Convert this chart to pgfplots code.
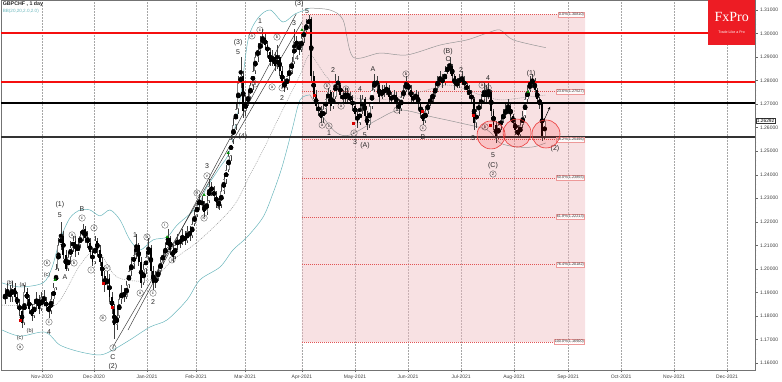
\documentclass[border=0pt]{standalone}
\usepackage{pgfplots}
\pgfplotsset{compat=1.18}
\usepackage{pgfplotstable}
\usetikzlibrary{arrows.meta}
\usepackage{fontspec}
\setmainfont{Liberation Sans}
\newfontfamily\logofont{Liberation Serif}
\definecolor{bandteal}{RGB}{105,182,188}
\definecolor{bandgray}{RGB}{150,150,150}
\definecolor{fibred}{RGB}{225,85,85}
\definecolor{fxred}{RGB}{237,28,36}
\definecolor{circred}{RGB}{235,55,55}
\definecolor{lvred}{RGB}{245,15,15}
\tikzset{
 ew/.style={font=\fontsize{7}{7}\selectfont, inner sep=0pt, text=black!85},
 pw/.style={font=\fontsize{5.5}{5.5}\selectfont, inner sep=0pt, text=black!85},
 cw/.style={circle, draw=black!75, line width=0.3pt, inner sep=0.1pt, minimum size=6.5pt, font=\fontsize{4.3}{4.3}\selectfont, text=black!85},
}
\begin{document}
\pgfplotstableread{
i O H L C
0 1.187 1.192 1.185 1.189
1 1.189 1.194 1.187 1.190
2 1.190 1.193 1.186 1.188
3 1.188 1.195 1.186 1.192
4 1.192 1.194 1.186 1.188
5 1.188 1.190 1.183 1.185
6 1.185 1.187 1.180 1.182
7 1.182 1.184 1.175 1.177
8 1.177 1.193 1.176 1.190
9 1.190 1.192 1.185 1.187
10 1.187 1.189 1.181 1.183
11 1.183 1.185 1.178 1.180
12 1.180 1.187 1.179 1.185
13 1.185 1.190 1.183 1.187
14 1.187 1.189 1.181 1.183
15 1.183 1.190 1.182 1.188
16 1.188 1.191 1.184 1.186
17 1.186 1.188 1.182 1.184
18 1.184 1.186 1.179 1.182
19 1.182 1.190 1.181 1.187
20 1.187 1.194 1.185 1.192
21 1.192 1.202 1.191 1.200
22 1.200 1.213 1.199 1.210
23 1.210 1.220 1.208 1.214
24 1.214 1.216 1.204 1.206
25 1.206 1.208 1.199 1.200
26 1.200 1.207 1.199 1.205
27 1.205 1.212 1.203 1.209
28 1.209 1.214 1.207 1.212
29 1.212 1.214 1.205 1.207
30 1.207 1.213 1.206 1.210
31 1.210 1.216 1.209 1.214
32 1.214 1.219 1.212 1.217
33 1.217 1.218 1.211 1.213
34 1.213 1.216 1.209 1.211
35 1.211 1.213 1.205 1.207
36 1.207 1.209 1.201 1.203
37 1.203 1.214 1.202 1.212
38 1.212 1.213 1.206 1.208
39 1.208 1.210 1.201 1.203
40 1.203 1.205 1.195 1.197
41 1.197 1.199 1.190 1.193
42 1.193 1.199 1.191 1.196
43 1.196 1.198 1.186 1.188
44 1.188 1.190 1.181 1.183
45 1.183 1.185 1.170 1.176
46 1.176 1.183 1.174 1.180
47 1.180 1.189 1.179 1.187
48 1.187 1.193 1.185 1.190
49 1.190 1.192 1.186 1.188
50 1.188 1.195 1.187 1.193
51 1.193 1.201 1.192 1.199
52 1.199 1.205 1.197 1.202
53 1.202 1.208 1.200 1.206
54 1.206 1.215 1.204 1.210
55 1.210 1.211 1.201 1.203
56 1.203 1.205 1.192 1.194
57 1.194 1.202 1.193 1.200
58 1.200 1.207 1.198 1.205
59 1.205 1.213 1.204 1.209
60 1.209 1.210 1.197 1.199
61 1.199 1.201 1.191 1.194
62 1.194 1.199 1.192 1.196
63 1.196 1.201 1.195 1.199
64 1.199 1.205 1.198 1.203
65 1.203 1.208 1.202 1.206
66 1.206 1.211 1.205 1.209
67 1.209 1.217 1.208 1.213
68 1.213 1.214 1.206 1.208
69 1.208 1.210 1.203 1.205
70 1.205 1.212 1.204 1.210
71 1.210 1.215 1.208 1.212
72 1.212 1.214 1.209 1.211
73 1.211 1.217 1.210 1.214
74 1.214 1.216 1.210 1.212
75 1.212 1.218 1.211 1.216
76 1.216 1.218 1.212 1.214
77 1.214 1.221 1.213 1.219
78 1.219 1.225 1.218 1.223
79 1.223 1.229 1.222 1.227
80 1.227 1.232 1.225 1.229
81 1.229 1.231 1.225 1.227
82 1.227 1.229 1.222 1.224
83 1.224 1.231 1.223 1.229
84 1.229 1.238 1.228 1.235
85 1.235 1.237 1.231 1.233
86 1.233 1.235 1.229 1.231
87 1.231 1.233 1.226 1.228
88 1.228 1.231 1.225 1.227
89 1.227 1.235 1.226 1.233
90 1.233 1.240 1.232 1.238
91 1.238 1.244 1.236 1.242
92 1.242 1.250 1.241 1.248
93 1.248 1.257 1.246 1.255
94 1.255 1.264 1.253 1.261
95 1.261 1.271 1.259 1.268
96 1.268 1.282 1.266 1.279
97 1.279 1.290 1.277 1.282
98 1.282 1.284 1.264 1.267
99 1.267 1.274 1.265 1.271
100 1.271 1.276 1.269 1.273
101 1.273 1.280 1.272 1.278
102 1.278 1.286 1.276 1.284
103 1.284 1.292 1.283 1.290
104 1.290 1.296 1.288 1.293
105 1.293 1.299 1.291 1.296
106 1.296 1.302 1.294 1.298
107 1.298 1.300 1.293 1.295
108 1.295 1.297 1.290 1.292
109 1.292 1.294 1.286 1.288
110 1.288 1.293 1.286 1.290
111 1.290 1.292 1.284 1.286
112 1.286 1.295 1.285 1.290
113 1.290 1.291 1.282 1.284
114 1.284 1.286 1.277 1.279
115 1.279 1.282 1.275 1.277
116 1.277 1.284 1.276 1.282
117 1.282 1.287 1.280 1.284
118 1.284 1.290 1.283 1.288
119 1.288 1.302 1.287 1.297
120 1.297 1.299 1.292 1.295
121 1.295 1.297 1.291 1.293
122 1.293 1.300 1.292 1.298
123 1.298 1.303 1.296 1.301
124 1.301 1.306 1.300 1.304
125 1.304 1.308 1.302 1.306
126 1.306 1.307 1.280 1.282
127 1.282 1.284 1.272 1.274
128 1.274 1.276 1.267 1.269
129 1.269 1.271 1.265 1.267
130 1.267 1.269 1.262 1.264
131 1.264 1.270 1.262 1.268
132 1.268 1.274 1.266 1.272
133 1.272 1.277 1.270 1.275
134 1.275 1.276 1.267 1.269
135 1.269 1.275 1.268 1.273
136 1.273 1.283 1.272 1.280
137 1.280 1.282 1.276 1.278
138 1.278 1.280 1.272 1.274
139 1.274 1.276 1.270 1.272
140 1.272 1.277 1.271 1.274
141 1.274 1.277 1.271 1.273
142 1.273 1.275 1.270 1.272
143 1.272 1.274 1.267 1.269
144 1.269 1.271 1.264 1.266
145 1.266 1.268 1.260 1.262
146 1.262 1.274 1.261 1.268
147 1.268 1.274 1.266 1.272
148 1.272 1.273 1.263 1.265
149 1.265 1.267 1.259 1.261
150 1.261 1.271 1.260 1.269
151 1.269 1.278 1.268 1.276
152 1.276 1.283 1.275 1.280
153 1.280 1.282 1.276 1.278
154 1.278 1.279 1.271 1.273
155 1.273 1.278 1.272 1.276
156 1.276 1.278 1.273 1.275
157 1.275 1.279 1.274 1.277
158 1.277 1.278 1.271 1.273
159 1.273 1.275 1.270 1.272
160 1.272 1.276 1.270 1.274
161 1.274 1.275 1.268 1.270
162 1.270 1.272 1.266 1.268
163 1.268 1.275 1.267 1.273
164 1.273 1.278 1.272 1.276
165 1.276 1.282 1.275 1.279
166 1.279 1.280 1.274 1.276
167 1.276 1.278 1.271 1.273
168 1.273 1.275 1.270 1.272
169 1.272 1.276 1.271 1.274
170 1.274 1.275 1.268 1.270
171 1.270 1.271 1.264 1.266
172 1.266 1.268 1.261 1.263
173 1.263 1.269 1.262 1.267
174 1.267 1.272 1.266 1.270
175 1.270 1.274 1.269 1.272
176 1.272 1.276 1.271 1.274
177 1.274 1.279 1.273 1.277
178 1.277 1.282 1.276 1.280
179 1.280 1.284 1.278 1.281
180 1.281 1.283 1.277 1.279
181 1.279 1.286 1.278 1.284
182 1.284 1.287 1.283 1.285
183 1.285 1.290 1.283 1.286
184 1.286 1.287 1.280 1.282
185 1.282 1.283 1.276 1.278
186 1.278 1.281 1.277 1.279
187 1.279 1.283 1.277 1.281
188 1.281 1.284 1.278 1.280
189 1.280 1.282 1.276 1.278
190 1.278 1.280 1.274 1.276
191 1.276 1.278 1.272 1.274
192 1.274 1.276 1.270 1.272
193 1.272 1.273 1.259 1.262
194 1.262 1.269 1.260 1.267
195 1.267 1.272 1.265 1.270
196 1.270 1.274 1.268 1.272
197 1.272 1.279 1.271 1.276
198 1.276 1.278 1.271 1.273
199 1.273 1.279 1.272 1.275
200 1.275 1.276 1.265 1.267
201 1.267 1.268 1.259 1.261
202 1.261 1.263 1.2535 1.256
203 1.256 1.263 1.255 1.261
204 1.261 1.265 1.259 1.263
205 1.263 1.268 1.262 1.266
206 1.266 1.270 1.264 1.267
207 1.267 1.272 1.266 1.269
208 1.269 1.270 1.263 1.265
209 1.265 1.266 1.260 1.262
210 1.262 1.264 1.257 1.259
211 1.259 1.261 1.2555 1.257
212 1.257 1.263 1.256 1.261
213 1.261 1.267 1.260 1.265
214 1.265 1.274 1.264 1.272
215 1.272 1.278 1.271 1.276
216 1.276 1.282 1.275 1.279
217 1.279 1.283 1.277 1.280
218 1.280 1.281 1.274 1.276
219 1.276 1.277 1.270 1.272
220 1.272 1.273 1.268 1.270
221 1.270 1.271 1.2545 1.256
222 1.256 1.264 1.255 1.2629
}\candles
\begin{tikzpicture}
\begin{axis}[
 at={(0,0)}, anchor=south west,
 scale only axis, width=754pt, height=370pt,
 xmin=-1.65, xmax=308.6, ymin=1.1570, ymax=1.31425,
 clip=false,
 axis line style={black!55, line width=0.5pt},
 xtick={15.2,36.6,58.4,78.6,98.8,122.2,144.0,165.8,187.7,209.5,231.7,253.5,275.3,297.1},
 xticklabels={Nov-2020,Dec-2020,Jan-2021,Feb-2021,Mar-2021,Apr-2021,May-2021,Jun-2021,Jul-2021,Aug-2021,Sep-2021,Oct-2021,Nov-2021,Dec-2021},
 xmajorgrids,
 major grid style={black!35, line width=0.35pt, dash pattern=on 1.5pt off 1.5pt},
 ytick={1.16,1.17,1.18,1.19,1.20,1.21,1.22,1.23,1.24,1.25,1.26,1.27,1.28,1.29,1.30,1.31},
 yticklabel pos=right, ytick pos=right, xtick pos=bottom,
 tick align=outside, major tick length=2.5pt, minor tick length=1.3pt, minor y tick num=4,
 tick style={black!60, line width=0.4pt},
 scaled y ticks=false,
 yticklabel style={font=\fontsize{5}{5}\selectfont, text=black!75, xshift=-1pt, /pgf/number format/.cd, fixed, fixed zerofill, precision=5, assume math mode=true},
 xticklabel style={font=\fontsize{5}{5}\selectfont, text=black!75, yshift=1pt},
]
% Fibonacci zone
\addplot[draw=none, fill={rgb,255:red,240;green,188;blue,193}, fill opacity=0.45] coordinates {(122.2,1.1690) (238.7,1.1690) (238.7,1.3081) (122.2,1.3081)} \closedcycle;
\addplot[fibred, line width=0.4pt, dash pattern=on 1pt off 1pt] coordinates {(122.2,1.3081) (238.7,1.3081)};
\addplot[fibred, line width=0.4pt, dash pattern=on 1pt off 1pt] coordinates {(122.2,1.2753) (238.7,1.2753)};
\addplot[fibred, line width=0.4pt, dash pattern=on 1pt off 1pt] coordinates {(122.2,1.2550) (238.7,1.2550)};
\addplot[fibred, line width=0.4pt, dash pattern=on 1pt off 1pt] coordinates {(122.2,1.2386) (238.7,1.2386)};
\addplot[fibred, line width=0.4pt, dash pattern=on 1pt off 1pt] coordinates {(122.2,1.2221) (238.7,1.2221)};
\addplot[fibred, line width=0.4pt, dash pattern=on 1pt off 1pt] coordinates {(122.2,1.2018) (238.7,1.2018)};
\addplot[fibred, line width=0.4pt, dash pattern=on 1pt off 1pt] coordinates {(122.2,1.1690) (238.7,1.1690)};
% Bollinger bands
\addplot[bandteal, line width=0.5pt, smooth] coordinates {(-1.2,1.1940) (6.2,1.1923) (15.6,1.1940) (19.3,1.2004) (22.6,1.2123) (26.7,1.2216) (30.9,1.2250) (35.0,1.2250) (39.1,1.2225) (43.2,1.2250) (47.3,1.2208) (51.4,1.2123) (55.6,1.2080) (60.9,1.2123) (66.7,1.2135) (70.8,1.2186) (79.0,1.2263) (83.1,1.2348) (88.5,1.2433) (92.6,1.2505) (96.7,1.2718) (100.0,1.2973) (104.1,1.3066) (109.1,1.3100) (114.4,1.3049) (119.3,1.3083) (125.5,1.3108)};
\addplot[bandgray, line width=0.5pt, smooth] coordinates {(125.5,1.3108) (133.7,1.3100) (139.1,1.3058) (143.2,1.2900) (154.3,1.2917) (165.4,1.2909) (179.0,1.2951) (190.1,1.2973) (198.4,1.3002) (203.7,1.3015) (209.1,1.2973) (222.5,1.2940)};
\addplot[bandteal, line width=0.5pt, smooth] coordinates {(-1.2,1.1740) (6.2,1.1714) (16.5,1.1731) (22.6,1.1676) (30.9,1.1647) (39.1,1.1634) (44.4,1.1655) (51.4,1.1698) (59.7,1.1753) (66.7,1.1783) (74.9,1.1868) (80.2,1.1953) (88.5,1.2008) (93.8,1.2080) (99.6,1.2135) (106.2,1.2220) (110.3,1.2322) (114.0,1.2433) (118.1,1.2590) (121.4,1.2718) (125.5,1.2739)};
\addplot[bandgray, line width=0.5pt, smooth] coordinates {(125.5,1.2739) (131.7,1.2633) (136.6,1.2577) (142.0,1.2569) (153.1,1.2633) (162.6,1.2675) (176.1,1.2645) (187.2,1.2620) (198.4,1.2590) (203.7,1.2535) (210.7,1.2518) (217.3,1.2518) (222.5,1.2535)};
\addplot[bandgray, line width=0.45pt, dash pattern=on 1pt off 1pt, smooth] coordinates {(-1.2,1.1846) (14.4,1.1842) (21.8,1.1855) (30.9,1.2016) (37.9,1.2080) (46.1,1.1965) (59.7,1.1953) (69.1,1.2038) (80.2,1.2123) (93.8,1.2263) (100.8,1.2399) (106.2,1.2505) (113.2,1.2654) (121.4,1.2824) (125.5,1.2909) (131.7,1.2824) (139.9,1.2739) (154.3,1.2718) (170.8,1.2752) (183.1,1.2781) (195.5,1.2739) (203.7,1.2718) (211.9,1.2726) (222.5,1.2739)};
% trend lines
\addplot[black!80, line width=0.45pt] coordinates {(44.4,1.1668) (122.2,1.3049)};
\addplot[black!80, line width=0.45pt] coordinates {(50.6,1.1740) (119.8,1.3083)};
% candles: wicks
\addplot[only marks, mark=none, error bars/.cd, y dir=both, y explicit, error mark=none, error bar style={line width=0.4pt, black!75}]
 table[x=i, y expr={(\thisrow{H}+\thisrow{L})/2}, y error expr={(\thisrow{H}-\thisrow{L})/2}] {\candles};
% bearish bodies
\addplot[only marks, mark=none, error bars/.cd, y dir=both, y explicit, error mark=none, error bar style={line width=1.8pt, black}]
 table[x=i, y expr={(\thisrow{O}+\thisrow{C})/2}, y error expr={max(\thisrow{O}-\thisrow{C},0)/2}] {\candles};
% bullish bodies (outline + white inside)
\addplot[only marks, mark=none, error bars/.cd, y dir=both, y explicit, error mark=none, error bar style={line width=2.0pt, black!50}]
 table[x=i, y expr={(\thisrow{O}+\thisrow{C})/2}, y error expr={max(\thisrow{C}-\thisrow{O},0)/2}] {\candles};
\addplot[only marks, mark=none, error bars/.cd, y dir=both, y explicit, error mark=none, error bar style={line width=1.35pt, white}]
 table[x=i, y expr={(\thisrow{O}+\thisrow{C})/2}, y error expr={max(\thisrow{C}-\thisrow{O}-0.0007,0)/2}] {\candles};
% circles
\addplot[only marks, mark=*, mark size=14pt, mark options={draw=circred, line width=0.6pt, fill=red, fill opacity=0.13}] coordinates {(200.0,1.2569) (210.7,1.2577) (222.6,1.2573)};
% signal markers
\addplot[only marks, mark=triangle*, mark size=1.4pt, color=green!55!black] coordinates {(20.6,1.1953) (66.7,1.2135) (81.9,1.2314) (91.8,1.2492) (122.2,1.3015) (215.2,1.2752)};
\addplot[only marks, mark=square*, mark size=1pt, color=red!85!black] coordinates {(6.2,1.1781) (40.3,1.1940) (44.0,1.1838) (127.2,1.2739) (143.2,1.2620) (171.6,1.2671) (192.6,1.2654) (199.6,1.2611)};
% arrow
\addplot[black, line width=0.5pt, -{Stealth[length=3pt,width=2.5pt]}] coordinates {(220.9,1.2611) (224.3,1.2689)};
% horizontal levels
\addplot[black, line width=1.3pt] coordinates {(-1.65,1.2705) (308.6,1.2705)};
\addplot[black!80, line width=1.5pt] coordinates {(-1.65,1.2560) (308.6,1.2560)};
\addplot[color=lvred, line width=1.5pt] coordinates {(-1.65,1.2794) (308.6,1.2794)};
\addplot[color=lvred, line width=1.6pt] coordinates {(-1.65,1.3001) (308.6,1.3001)};
% Fibonacci labels
\foreach \yy/\tt in {1.3081/0.0\%(1.30810), 1.2753/23.6\%(1.27527), 1.2550/38.2\%(1.25496), 1.2386/50.0\%(1.23855), 1.2221/61.8\%(1.22213), 1.2018/76.4\%(1.20182), 1.1690/100.0\%(1.16900)}{
 \edef\tmp{\noexpand\node[anchor=east, fill=white, fill opacity=0.85, text opacity=1, draw=fibred!60, line width=0.25pt, inner sep=0.6pt, font=\noexpand\fontsize{3.8}{3.8}\noexpand\selectfont, text=black!80] at (axis cs:238.5,\yy) {\tt};}\tmp
}
% wave labels
\node[pw] at (axis cs:2.1,1.1940) {(b)};
\node[pw] at (axis cs:7.4,1.1931) {(a)};
\node[pw] at (axis cs:6.2,1.1706) {(c)};
\node[cw] at (axis cs:6.2,1.1668) {a};
\node[pw] at (axis cs:10.3,1.1736) {(b)};
\node[cw] at (axis cs:17.3,1.2025) {b};
\node[pw] at (axis cs:17.3,1.1974) {(c)};
\node[cw] at (axis cs:18.1,1.1774) {c};
\node[ew] at (axis cs:18.1,1.1731) {4};
\node[ew] at (axis cs:22.6,1.2271) {(1)};
\node[ew] at (axis cs:22.6,1.2229) {5};
\node[ew] at (axis cs:24.7,1.1965) {A};
\node[cw] at (axis cs:27.6,1.2144) {a};
\node[cw] at (axis cs:28.4,1.2025) {b};
\node[ew] at (axis cs:31.7,1.2254) {B};
\node[cw] at (axis cs:31.7,1.2216) {c};
\node[cw] at (axis cs:35.4,1.1995) {i};
\node[cw] at (axis cs:36.6,1.2174) {ii};
\node[cw] at (axis cs:42.0,1.2004) {iv};
\node[cw] at (axis cs:40.3,1.1791) {iii};
\node[cw] at (axis cs:44.4,1.1664) {v};
\node[ew] at (axis cs:44.4,1.1625) {C};
\node[ew] at (axis cs:44.4,1.1583) {(2)};
\node[ew] at (axis cs:53.5,1.2144) {1};
\node[cw] at (axis cs:58.4,1.2135) {b};
\node[cw] at (axis cs:55.6,1.1897) {a};
\node[cw] at (axis cs:60.9,1.1897) {c};
\node[ew] at (axis cs:60.9,1.1859) {2};
\node[cw] at (axis cs:65.8,1.2186) {i};
\node[cw] at (axis cs:68.7,1.2038) {ii};
\node[cw] at (axis cs:79.0,1.2322) {iii};
\node[cw] at (axis cs:81.9,1.2216) {iv};
\node[cw] at (axis cs:83.1,1.2395) {v};
\node[ew] at (axis cs:83.1,1.2437) {3};
\node[ew] at (axis cs:87.7,1.2263) {4};
\node[ew] at (axis cs:95.9,1.2960) {(3)};
\node[ew] at (axis cs:95.9,1.2922) {5};
\node[ew] at (axis cs:97.9,1.2560) {(4)};
\node[cw] at (axis cs:101.6,1.2990) {a};
\node[cw] at (axis cs:104.9,1.3015) {c};
\node[ew] at (axis cs:104.9,1.3053) {1};
\node[cw] at (axis cs:102.9,1.2786) {b};
\node[cw] at (axis cs:111.9,1.2985) {b};
\node[cw] at (axis cs:109.9,1.2773) {a};
\node[cw] at (axis cs:114.0,1.2769) {c};
\node[ew] at (axis cs:114.0,1.2726) {2};
\node[ew] at (axis cs:118.9,1.3045) {3};
\node[ew] at (axis cs:120.2,1.2896) {4};
\node[ew] at (axis cs:124.3,1.3094) {5};
\node[ew, anchor=north] at (axis cs:121.0,1.31425) [yshift=-0.4pt] {(3)};
\node[cw] at (axis cs:130.5,1.2611) {a};
\node[cw] at (axis cs:133.3,1.2607) {c};
\node[ew] at (axis cs:133.3,1.2577) {1};
\node[cw] at (axis cs:132.5,1.2777) {b};
\node[ew] at (axis cs:135.0,1.2845) {2};
\node[cw] at (axis cs:140.3,1.2764) {b};
\node[cw] at (axis cs:138.3,1.2692) {a};
\node[ew] at (axis cs:146.1,1.2764) {4};
\node[cw] at (axis cs:143.6,1.2577) {c};
\node[ew] at (axis cs:144.0,1.2539) {3};
\node[ew] at (axis cs:148.1,1.2569) {5};
\node[ew] at (axis cs:148.1,1.2522) {(A)};
\node[ew] at (axis cs:151.4,1.2849) {A};
\node[cw] at (axis cs:161.3,1.2675) {a};
\node[cw] at (axis cs:165.0,1.2828) {b};
\node[cw] at (axis cs:172.0,1.2599) {c};
\node[ew] at (axis cs:172.0,1.2560) {B};
\node[ew] at (axis cs:182.3,1.2922) {(B)};
\node[ew] at (axis cs:182.3,1.2892) {C};
\node[ew] at (axis cs:187.7,1.2845) {2};
\node[ew] at (axis cs:192.6,1.2556) {3};
\node[cw] at (axis cs:196.3,1.2781) {a};
\node[cw] at (axis cs:198.8,1.2769) {c};
\node[ew] at (axis cs:198.8,1.2811) {4};
\node[cw] at (axis cs:197.5,1.2603) {b};
\node[ew] at (axis cs:200.8,1.2484) {5};
\node[ew] at (axis cs:200.8,1.2437) {(C)};
\node[cw] at (axis cs:200.8,1.2403) {2};
\node[ew] at (axis cs:216.5,1.2828) {(1)};
\node[ew] at (axis cs:226.3,1.2509) {(2)};
% logo
\fill[fxred] (axis cs:289.3,1.31425) rectangle (axis cs:308.6,1.2951);
\node[text=white, font=\logofont\fontsize{14}{14}\selectfont, inner sep=0pt] at (axis cs:299.0,1.3070) {FxPro};
\node[text=white, font=\fontsize{3.6}{3.6}\selectfont, inner sep=0pt] at (axis cs:299.0,1.3004) {Trade Like a Pro};
% title
\node[anchor=north west, inner sep=0pt, font=\bfseries\fontsize{5.3}{5.3}\selectfont, text=black!85] at (axis cs:-1.0,1.3136) {GBPCHF , 1 day};
\node[anchor=north west, inner sep=0pt, font=\fontsize{4.6}{4.6}\selectfont, text=bandteal] at (axis cs:-1.0,1.3104) {BB(20,20,2.0,2.0)};
% current price
\node[anchor=west, draw=black!80, fill=white, line width=0.3pt, inner sep=0.6pt, font=\fontsize{4.8}{4.8}\selectfont] at (axis cs:308.6,1.2629) [xshift=1.2pt] {1.26292};
\end{axis}
\pgfresetboundingbox
\path[use as bounding box] (-1pt,-12pt) rectangle (781pt,370pt);
\end{tikzpicture}
\end{document}
